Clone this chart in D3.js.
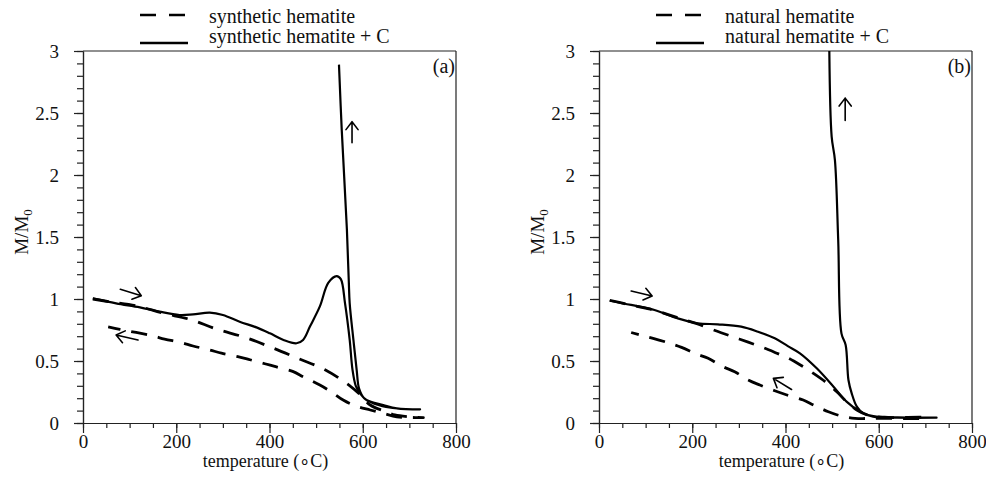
<html>
<head>
<meta charset="utf-8">
<script src="https://d3js.org/d3.v7.min.js"></script>
<style>
body { margin: 0; background: #fff; }
text { font-family: "Liberation Serif", "Times New Roman", serif; fill: #111; }
.axis path, .axis line { stroke: #222; stroke-width: 1.2; }
</style>
</head>
<body>
<svg id="chart" width="986" height="491"></svg>
<script>
// axis ticks
const tempTicks = [0, 200, 400, 600, 800];
const tempMinor = d3.range(0, 801, 50);
const magTicks = [0, 0.5, 1, 1.5, 2, 2.5, 3];
const magMinor = d3.range(0, 30.5, 1).map(d => d / 10);

// (a) synthetic hematite, [temperature, M/M0]
const synHeat = [[21,1.0],[57,0.978],[114,0.946],[172,0.885],[229,0.836],[286,0.758],[347,0.691],[404,0.61],
  [462,0.52],[519,0.43],[569,0.31],[594,0.23],[616,0.145],[651,0.09],[669,0.065],[700,0.05],[730,0.043]];
const synCool = [[730,0.043],[700,0.045],[673,0.05],[644,0.078],[616,0.105],[583,0.14],[558,0.185],[533,0.25],
  [508,0.306],[472,0.373],[451,0.414],[415,0.452],[390,0.478],[358,0.51],[332,0.535],[297,0.563],[272,0.589],
  [236,0.621],[211,0.648],[175,0.677],[150,0.702],[114,0.73],[79,0.755],[54,0.775]];
// (a) synthetic hematite + C
const synCHeat = [[21,1.005],[71,0.965],[122,0.933],[164,0.898],[207,0.871],[236,0.876],[272,0.89],[300,0.871],
  [336,0.817],[372,0.771],[401,0.723],[430,0.67],[458,0.643],[472,0.67],[487,0.78],[508,0.94],[526,1.13],
  [544,1.185],[553,1.16],[562,0.965],[572,0.67],[578,0.43],[585,0.3],[594,0.24],[608,0.185],[644,0.145],
  [673,0.118],[723,0.11]];
const synCCool = [[723,0.11],[680,0.115],[650,0.13],[625,0.155],[603,0.2],[592,0.28],[587,0.427],[580,0.67],
  [572,0.965],[570,1.15],[566,1.56],[555,2.36],[549,2.89]];

// (b) natural hematite
const natHeat = [[23,0.99],[60,0.958],[110,0.918],[160,0.86],[210,0.8],[262,0.728],[291,0.69],[320,0.652],
  [352,0.608],[380,0.565],[405,0.525],[431,0.47],[460,0.4],[485,0.333],[510,0.252],[530,0.175],[553,0.105],
  [580,0.06],[620,0.045],[700,0.043]];
const natCool = [[700,0.04],[600,0.038],[549,0.038],[520,0.056],[492,0.091],[460,0.145],[438,0.185],[403,0.226],
  [377,0.26],[345,0.306],[320,0.347],[291,0.414],[266,0.454],[234,0.522],[209,0.556],[177,0.61],[152,0.643],
  [116,0.683],[94,0.704],[69,0.73]];
// (b) natural hematite + C
const natCHeat = [[23,0.986],[69,0.952],[119,0.911],[169,0.844],[212,0.804],[255,0.796],[305,0.777],[341,0.736],
  [377,0.683],[405,0.62],[431,0.562],[467,0.441],[503,0.293],[531,0.172],[560,0.091],[588,0.051],[639,0.043],
  [724,0.043]];
const natCCool = [[724,0.043],[640,0.045],[596,0.051],[567,0.078],[553,0.132],[542,0.239],[535,0.347],
  [529,0.629],[520,0.723],[513,1.48],[506,2.12],[499,2.31],[494,3.0]];

// direction arrows, [tail, tip] in data units
const arrowsA = [[[80,1.078],[125,1.027]], [[118,0.669],[71,0.71]], [[577,2.26],[577,2.43]]];
const arrowsB = [[[69,1.065],[114,1.024]], [[413,0.27],[374,0.36]], [[528,2.44],[528,2.62]]];

const serif = '"Liberation Serif", "Times New Roman", serif';
const svg = d3.select("#chart");

function panel(left, id, tag, series, arrows, legend) {
  const x = d3.scaleLinear().domain([0, 800]).range([left, left + 373]);
  const y = d3.scaleLinear().domain([0, 3]).range([423, 51]);
  const g = svg.append("g");

  g.append("clipPath").attr("id", "clip" + id).append("rect")
    .attr("x", x(0)).attr("y", y(3)).attr("width", x(800) - x(0)).attr("height", y(0) - y(3));

  // minor ticks
  g.append("g").attr("class", "axis").attr("transform", `translate(0,${y(0)})`)
    .call(d3.axisBottom(x).tickValues(tempMinor).tickSize(5).tickSizeOuter(0).tickFormat(""));
  g.append("g").attr("class", "axis").attr("transform", `translate(${x(0)},0)`)
    .call(d3.axisLeft(y).tickValues(magMinor).tickSize(6).tickSizeOuter(0).tickFormat(""));

  const xa = g.append("g").attr("class", "axis").attr("transform", `translate(0,${y(0)})`)
    .call(d3.axisBottom(x).tickValues(tempTicks).tickSize(10).tickSizeOuter(0).tickPadding(2).tickFormat(d3.format("d")));
  xa.attr("font-family", serif).attr("font-size", 19);
  xa.selectAll("text").attr("fill", "#111");
  const ya = g.append("g").attr("class", "axis").attr("transform", `translate(${x(0)},0)`)
    .call(d3.axisLeft(y).tickValues(magTicks).tickSize(9).tickSizeOuter(0).tickPadding(15).tickFormat(d => String(d)));
  ya.attr("font-family", serif).attr("font-size", 19);
  ya.selectAll("text").attr("fill", "#111");

  // frame top and right
  g.append("line").attr("x1", x(0)).attr("x2", x(800)).attr("y1", y(3)).attr("y2", y(3))
    .attr("stroke", "#222").attr("stroke-width", 1.2);
  g.append("line").attr("x1", x(800)).attr("x2", x(800)).attr("y1", y(0)).attr("y2", y(3))
    .attr("stroke", "#222").attr("stroke-width", 1.2);

  g.append("text").attr("x", (x(0) + x(800)) / 2 - 4).attr("y", 467)
    .attr("text-anchor", "middle").style("font-size", "18px").text("temperature (\u2218C)");

  const yl = g.append("text").attr("transform", `translate(${x(0) - 55},232) rotate(-90)`)
    .attr("text-anchor", "middle").style("font-size", "19px");
  yl.append("tspan").text("M/M");
  yl.append("tspan").attr("dy", "0.3em").style("font-size", "13px").text("0");

  g.append("text").attr("x", x(800) - 1).attr("y", 73).attr("text-anchor", "end")
    .style("font-size", "20px").text(tag);

  const line = d3.line().x(d => x(d[0])).y(d => y(d[1])).curve(d3.curveCatmullRom.alpha(0.5));
  const plot = g.append("g").attr("clip-path", `url(#clip${id})`);
  series.forEach(s => {
    plot.append("path").attr("d", line(s.data)).attr("fill", "none").attr("stroke", "#000")
      .attr("stroke-width", s.dash ? 2.8 : 2.2)
      .attr("stroke-dasharray", s.dash ? "16,11" : null)
      .attr("stroke-linejoin", "round");
  });

  arrows.forEach(a => {
    const x0 = x(a[0][0]), y0 = y(a[0][1]), x1 = x(a[1][0]), y1 = y(a[1][1]);
    const ang = Math.atan2(y1 - y0, x1 - x0);
    const L = 10, h = 0.65;
    const p = d3.path();
    p.moveTo(x0, y0); p.lineTo(x1, y1);
    p.moveTo(x1 - L * Math.cos(ang - h), y1 - L * Math.sin(ang - h));
    p.lineTo(x1, y1);
    p.lineTo(x1 - L * Math.cos(ang + h), y1 - L * Math.sin(ang + h));
    g.append("path").attr("d", p.toString()).attr("fill", "none").attr("stroke", "#000")
      .attr("stroke-width", 1.6).attr("stroke-linecap", "round").attr("stroke-linejoin", "round");
  });

  // legend above the panel
  const lx = x(0) + 57;
  g.append("line").attr("x1", lx).attr("x2", lx + 48).attr("y1", 15).attr("y2", 15)
    .attr("stroke", "#000").attr("stroke-width", 2.7).attr("stroke-dasharray", "16,13");
  g.append("line").attr("x1", lx).attr("x2", lx + 48).attr("y1", 43).attr("y2", 43)
    .attr("stroke", "#000").attr("stroke-width", 2.4);
  g.append("text").attr("x", lx + 69).attr("y", 23).style("font-size", "20px").text(legend[0]);
  g.append("text").attr("x", lx + 69).attr("y", 43).style("font-size", "20px").text(legend[1]);
}

panel(83, "a", "(a)",
  [{data: synHeat.concat(synCool), dash: true}, {data: synCHeat.concat(synCCool), dash: false}],
  arrowsA, ["synthetic hematite", "synthetic hematite + C"]);
panel(599, "b", "(b)",
  [{data: natHeat.concat(natCool), dash: true}, {data: natCHeat.concat(natCCool), dash: false}],
  arrowsB, ["natural hematite", "natural hematite + C"]);
</script>
</body>
</html>
